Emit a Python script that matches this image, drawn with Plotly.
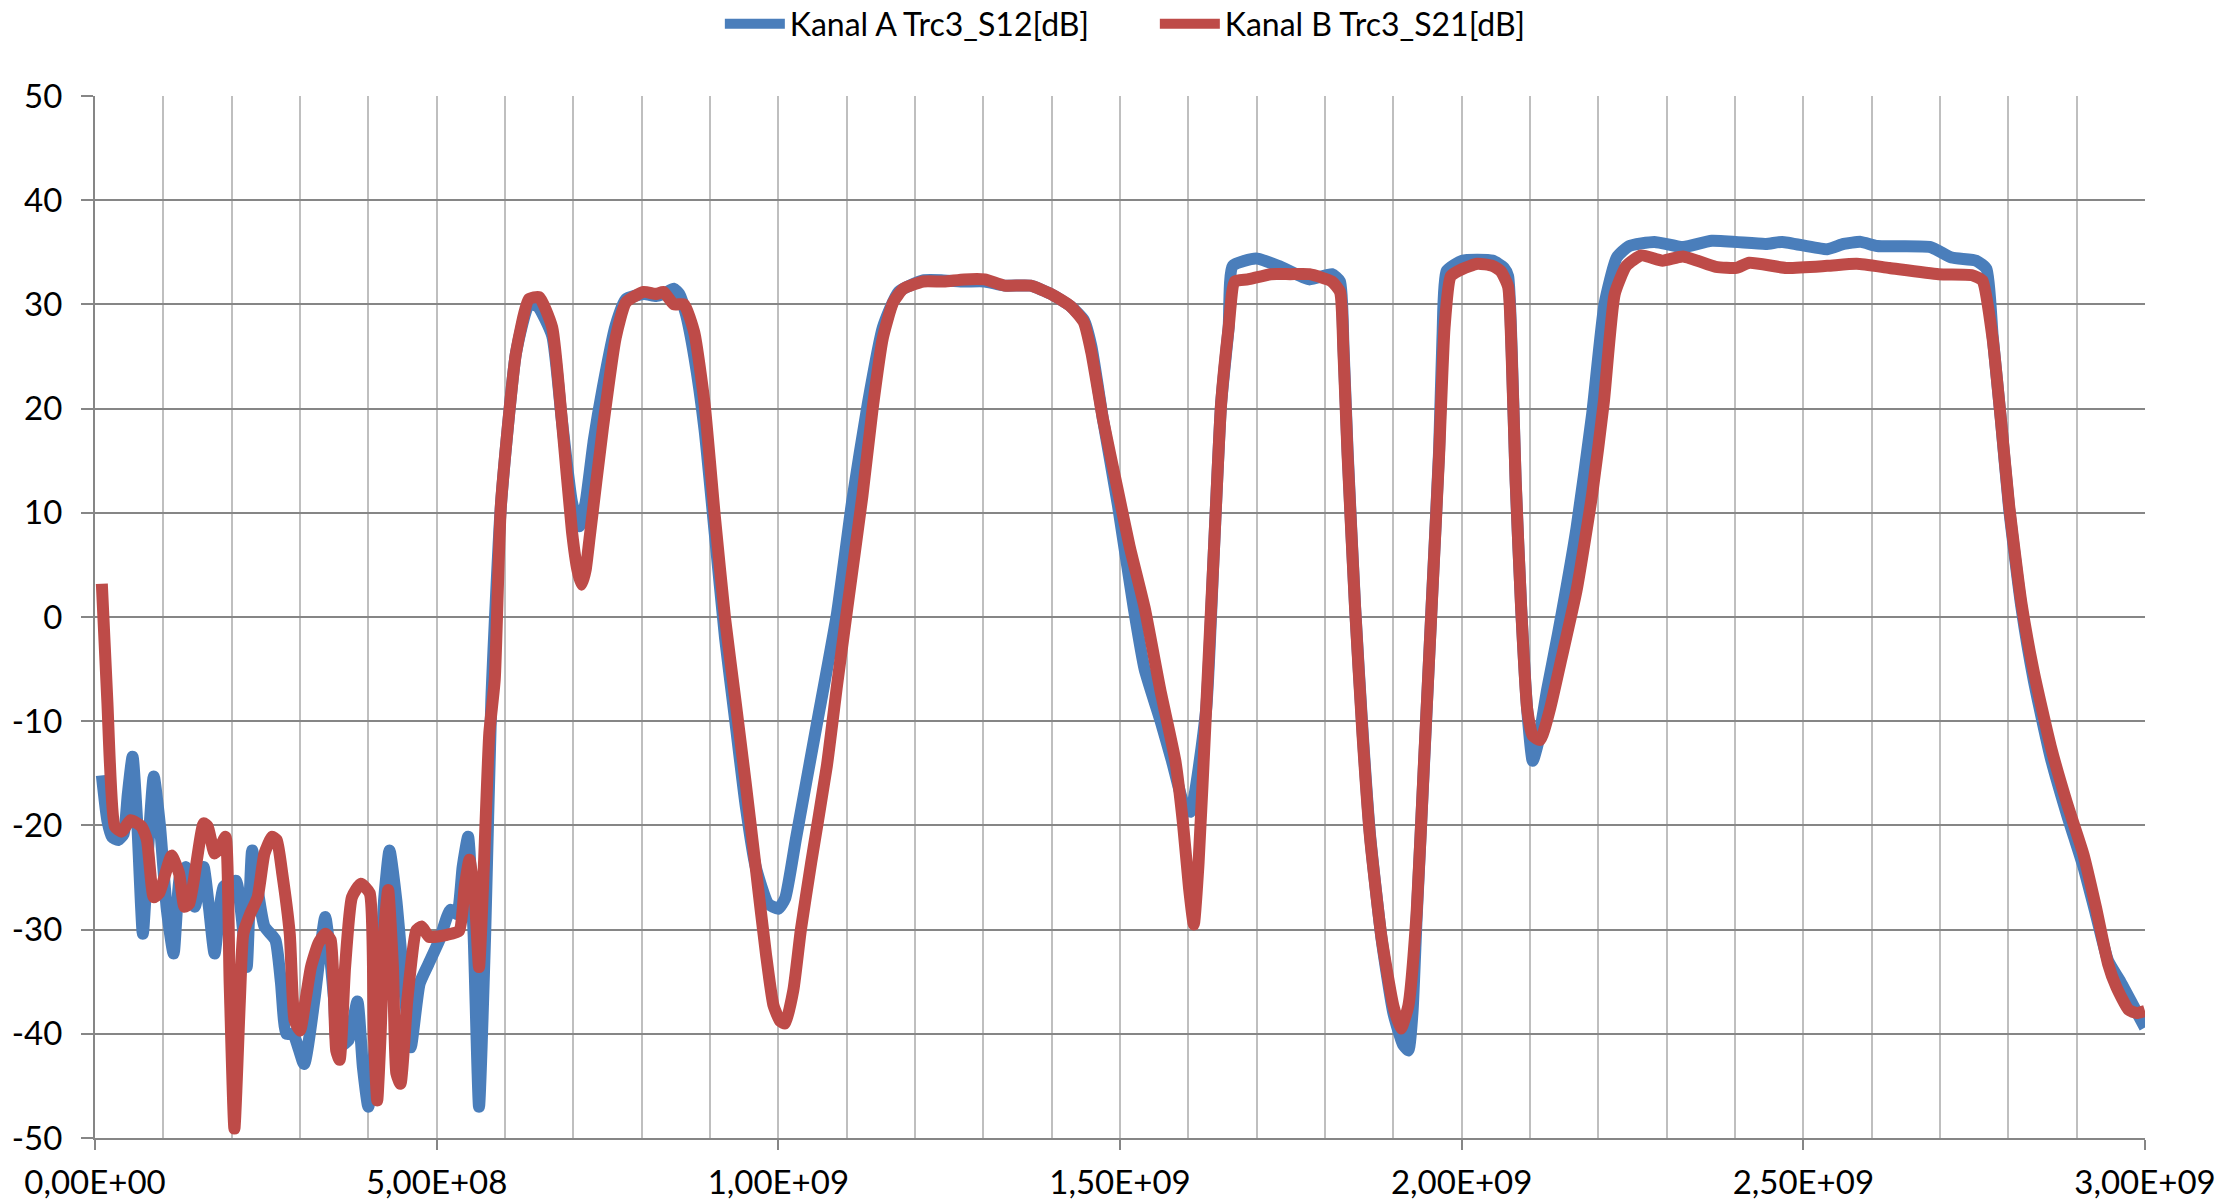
import plotly.graph_objects as go

# Frequencies in MHz and levels in dB
freq_a_mhz = [10, 18, 25, 34, 42, 48, 55, 62, 70, 78, 86, 95, 105, 115, 124, 133, 146, 152, 159, 167,
              175, 188, 206, 215, 222, 230, 240, 248, 264, 272, 280, 290, 306, 321, 337, 350, 355, 371,
              384, 392, 400, 415, 423, 431, 441, 452, 462, 475, 488, 504, 520, 530, 538, 546, 554, 562,
              571, 580, 594, 616, 635, 648, 669, 683, 698, 709, 718, 730, 743, 762, 777, 803, 821, 832,
              847, 855, 865, 877, 892, 907, 922, 937, 952, 967, 985, 1000, 1010, 1026, 1056, 1086, 1108,
              1131, 1153, 1176, 1212, 1242, 1272, 1302, 1331, 1369, 1399, 1428, 1447, 1458, 1475, 1497,
              1520, 1536, 1559, 1576, 1592, 1603, 1626, 1637, 1648, 1659, 1665, 1699, 1732, 1777, 1810,
              1822, 1827, 1833, 1844, 1855, 1866, 1883, 1900, 1914, 1922, 1928, 1934, 1945, 1956, 1967,
              1972, 1978, 2001, 2045, 2062, 2068, 2073, 2079, 2087, 2096, 2104, 2112, 2125, 2141, 2168,
              2191, 2209, 2227, 2245, 2282, 2324, 2366, 2445, 2469, 2535, 2559, 2584, 2608, 2686, 2717,
              2753, 2768, 2777, 2789, 2801, 2819, 2837, 2862, 2886, 2910, 2928, 2946, 2964, 2982, 3000]
kanal_a_s12 = [-15.2, -19.5, -21.1, -21.4, -20.8, -17.0, -13.4, -20.0, -30.4, -22.0, -15.3, -20.0, -28.0,
               -32.3, -25.0, -24.0, -27.8, -26.0, -24.0, -28.0, -32.3, -25.9, -25.3, -29.0, -33.6, -22.4,
               -27.0, -29.7, -31.0, -35.0, -40.0, -40.0, -42.9, -36.8, -28.8, -36.8, -41.3, -40.6, -36.9,
               -43.2, -47.0, -36.8, -27.2, -22.4, -27.2, -35.2, -41.3, -35.2, -33.3, -31.0, -28.1, -28.5,
               -24.0, -21.1, -30.4, -47.0, -30.4, -8.0, 10.7, 25.3, 30.0, 29.8, 27.0, 19.0, 11.0, 8.7,
               11.0, 17.0, 22.0, 28.0, 30.5, 31.0, 30.8, 31.0, 31.5, 31.0, 29.0, 25.0, 18.0, 8.0, -2.0,
               -10.0, -18.0, -24.0, -27.5, -28.0, -27.0, -21.2, -10.4, 0.4, 11.1, 20.5, 27.8, 31.2, 32.3,
               32.3, 32.2, 32.2, 31.8, 31.8, 31.0, 29.8, 28.5, 26.0, 19.0, 10.7, 0.9, -5.0, -9.9, -13.8,
               -17.7, -18.7, -8.9, 5.8, 20.5, 27.8, 33.7, 34.4, 33.7, 32.4, 32.9, 32.2, 26.0, 16.0, 1.0,
               -11.0, -21.0, -31.0, -38.0, -41.0, -41.6, -38.0, -29.0, -14.0, 1.0, 16.0, 27.0, 33.2, 34.2,
               34.2, 33.5, 32.7, 26.0, 13.0, 1.0, -9.0, -13.8, -12.0, -7.0, -1.6, 8.5, 19.5, 30.0, 34.5,
               35.6, 36.0, 35.5, 36.1, 35.8, 36.0, 35.3, 35.8, 36.0, 35.6, 35.5, 34.5, 34.2, 33.4, 27.0,
               19.0, 10.5, 1.0, -6.0, -13.5, -19.0, -24.0, -28.5, -33.0, -35.0, -37.2, -39.4]

freq_b_mhz = [10, 18, 29, 39, 52, 68, 76, 86, 94, 112, 123, 131, 138, 159, 165, 175, 183, 191, 197, 204,
              212, 217, 227, 238, 248, 259, 266, 274, 285, 292, 300, 308, 316, 327, 337, 345, 353, 358,
              366, 376, 389, 402, 408, 413, 418, 423, 429, 436, 441, 447, 457, 470, 478, 489, 515, 533,
              541, 548, 556, 562, 569, 577, 585, 594, 616, 635, 650, 669, 683, 698, 706, 712, 718, 724,
              743, 762, 777, 803, 821, 832, 847, 862, 877, 892, 907, 922, 937, 952, 967, 982, 993, 1003,
              1010, 1022, 1033, 1048, 1071, 1086, 1101, 1123, 1138, 1153, 1168, 1183, 1212, 1242, 1272,
              1302, 1331, 1369, 1399, 1428, 1447, 1458, 1475, 1497, 1514, 1536, 1559, 1581, 1592, 1601,
              1608, 1615, 1626, 1637, 1648, 1659, 1668, 1687, 1721, 1749, 1777, 1810, 1822, 1827, 1833,
              1844, 1855, 1866, 1883, 1900, 1911, 1922, 1934, 1945, 1956, 1967, 1975, 1984, 2001, 2023,
              2045, 2057, 2068, 2073, 2079, 2087, 2096, 2104, 2115, 2129, 2146, 2168, 2191, 2208, 2224,
              2241, 2263, 2294, 2324, 2372, 2402, 2421, 2475, 2535, 2578, 2626, 2698, 2747, 2762, 2777,
              2789, 2801, 2819, 2837, 2862, 2886, 2910, 2928, 2946, 2958, 2976, 2988, 3000]
kanal_b_s21 = [3.2, -8.0, -20.1, -20.6, -19.5, -20.1, -21.4, -26.9, -26.5, -22.9, -24.6, -27.8, -27.5,
               -19.8, -20.1, -22.7, -22.1, -21.1, -35.0, -49.1, -36.8, -30.4, -28.5, -26.9, -22.7, -21.1,
               -21.4, -24.6, -30.4, -38.7, -39.7, -36.8, -33.6, -31.3, -30.4, -31.0, -41.6, -42.5, -33.6,
               -26.9, -25.6, -26.5, -40.0, -46.4, -40.0, -30.4, -26.2, -33.6, -43.8, -44.8, -36.8, -30.1,
               -29.7, -30.7, -30.5, -30.1, -25.9, -23.3, -27.2, -33.6, -24.0, -11.2, -6.0, 10.7, 25.3,
               30.5, 30.7, 27.8, 19.0, 8.2, 4.5, 3.1, 4.5, 7.7, 18.0, 26.8, 30.2, 31.2, 31.0, 31.2, 30.0,
               30.0, 27.3, 20.5, 9.7, -0.1, -7.9, -15.8, -24.1, -32.4, -37.3, -38.8, -39.0, -35.8, -30.0,
               -23.6, -14.3, -6.5, 0.9, 11.6, 20.0, 26.8, 30.2, 31.5, 32.2, 32.2, 32.4, 32.4, 31.8, 31.8,
               31.0, 29.8, 28.3, 25.4, 19.0, 12.1, 6.8, 0.9, -7.0, -13.8, -19.7, -26.0, -29.5, -23.6, -8.9,
               5.8, 20.5, 27.8, 32.2, 32.4, 32.9, 32.9, 32.9, 32.2, 31.2, 25.4, 15.6, 0.9, -11.4, -21.2,
               -30.9, -37.3, -39.5, -37.3, -28.5, -13.8, 0.9, 15.6, 27.8, 32.7, 33.4, 33.9, 33.7, 33.2,
               31.7, 25.4, 13.1, 0.9, -8.9, -11.4, -11.8, -8.9, -4.0, 2.5, 11.8, 20.6, 31.0, 33.7, 34.7,
               34.2, 34.6, 33.6, 33.5, 34.0, 33.5, 33.7, 33.9, 33.5, 32.9, 32.8, 32.3, 26.7, 19.0, 10.8,
               1.4, -5.2, -12.4, -17.9, -22.8, -27.8, -33.3, -35.5, -37.7, -38.0, -37.8]

series_names = ["Kanal A Trc3_S12[dB]", "Kanal B Trc3_S21[dB]"]
series_colors = ["#4A7EBB", "#BE4B48"]

x_tick_vals = [0, 5e8, 1e9, 1.5e9, 2e9, 2.5e9, 3e9]
x_tick_text = ["0,00E+00", "5,00E+08", "1,00E+09", "1,50E+09", "2,00E+09", "2,50E+09", "3,00E+09"]
x_minor_vals = [i * 1e8 for i in range(31)]
y_tick_vals = [-50, -40, -30, -20, -10, 0, 10, 20, 30, 40, 50]
y_tick_text = ["-50", "-40", "-30", "-20", "-10", "0", "10", "20", "30", "40", "50"]

FONT = "Lato, Carlito, Calibri, sans-serif"

fig = go.Figure()
for fx, vals, name, color in [(freq_a_mhz, kanal_a_s12, series_names[0], series_colors[0]),
                              (freq_b_mhz, kanal_b_s21, series_names[1], series_colors[1])]:
    fig.add_trace(go.Scatter(
        x=[f * 1e6 for f in fx], y=vals, name=name, mode="lines",
        line=dict(color=color, width=12, shape="spline", smoothing=0.5),
    ))

fig.update_layout(
    width=2228, height=1202,
    margin=dict(l=95, r=83, t=96, b=64, autoexpand=False),
    paper_bgcolor="white", plot_bgcolor="white",
    font=dict(family=FONT, size=33, color="#000000"),
    showlegend=True,
    legend=dict(orientation="h", x=0.517, xanchor="center", xref="paper",
                y=1 - 24 / 1202, yanchor="middle", yref="container",
                entrywidth=360, itemwidth=60,
                font=dict(family=FONT, size=32, color="#000000"), bgcolor="rgba(0,0,0,0)"),
    xaxis=dict(
        range=[0, 3e9], tickmode="array", tickvals=x_tick_vals, ticktext=x_tick_text,
        automargin=False,
        showgrid=True, gridcolor="#BFBFBF", gridwidth=2,
        minor=dict(tickmode="array", tickvals=x_minor_vals, showgrid=True,
                   gridcolor="#BFBFBF", gridwidth=2, ticks=""),
        showline=True, linecolor="#868686", linewidth=2,
        ticks="outside", ticklen=10, tickwidth=2, tickcolor="#868686",
        zeroline=False, ticklabelstandoff=4,
        tickfont=dict(family=FONT, size=33, color="#000000"),
    ),
    yaxis=dict(
        range=[-50, 50], tickmode="array", tickvals=y_tick_vals, ticktext=y_tick_text,
        automargin=False,
        showgrid=True, gridcolor="#868686", gridwidth=2,
        showline=True, linecolor="#868686", linewidth=2,
        ticks="outside", ticklen=12, tickwidth=2, tickcolor="#868686",
        zeroline=False, ticklabelstandoff=12,
        tickfont=dict(family=FONT, size=33, color="#000000"),
    ),
)

fig.write_html("out.html")
